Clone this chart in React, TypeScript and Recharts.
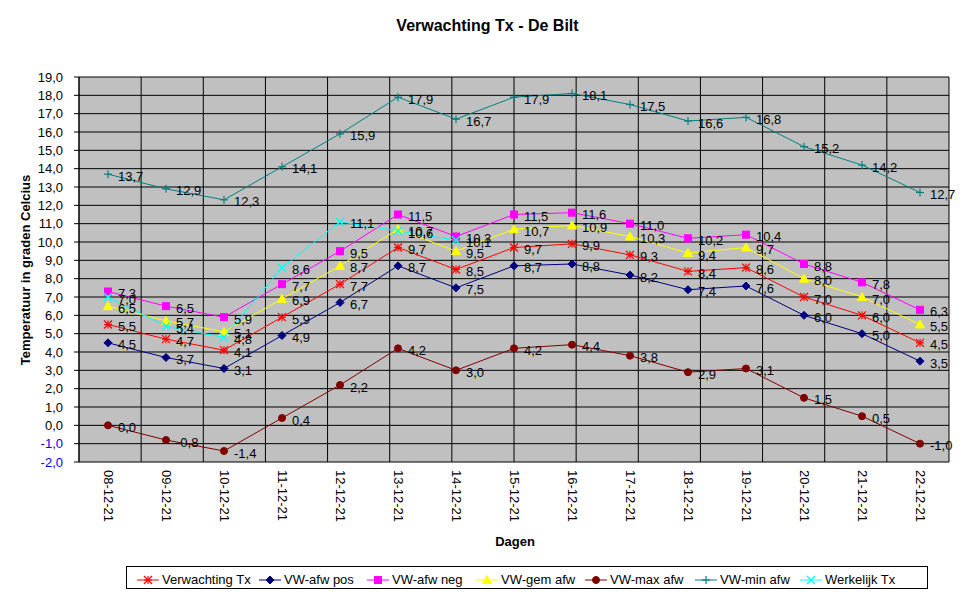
import React from 'react';
import { LineChart, Line, XAxis, YAxis, CartesianGrid, LabelList } from 'recharts';

const dates = ['08-12-21', '09-12-21', '10-12-21', '11-12-21', '12-12-21', '13-12-21', '14-12-21', '15-12-21', '16-12-21', '17-12-21', '18-12-21', '19-12-21', '20-12-21', '21-12-21', '22-12-21'];
const verwachtingTx = [5.5, 4.7, 4.1, 5.9, 7.7, 9.7, 8.5, 9.7, 9.9, 9.3, 8.4, 8.6, 7.0, 6.0, 4.5];
const vwAfwPos = [4.5, 3.7, 3.1, 4.9, 6.7, 8.7, 7.5, 8.7, 8.8, 8.2, 7.4, 7.6, 6.0, 5.0, 3.5];
const vwAfwNeg = [7.3, 6.5, 5.9, 7.7, 9.5, 11.5, 10.3, 11.5, 11.6, 11.0, 10.2, 10.4, 8.8, 7.8, 6.3];
const vwGemAfw = [6.5, 5.7, 5.1, 6.9, 8.7, 10.7, 9.5, 10.7, 10.9, 10.3, 9.4, 9.7, 8.0, 7.0, 5.5];
const vwMaxAfw = [0.0, -0.8, -1.4, 0.4, 2.2, 4.2, 3.0, 4.2, 4.4, 3.8, 2.9, 3.1, 1.5, 0.5, -1.0];
const vwMinAfw = [13.7, 12.9, 12.3, 14.1, 15.9, 17.9, 16.7, 17.9, 18.1, 17.5, 16.6, 16.8, 15.2, 14.2, 12.7];
const werkelijkTx: (number | null)[] = [7.0, 5.4, 4.8, 8.6, 11.1, 10.6, 10.1, null, null, null, null, null, null, null, null];
const yTicks = [-2, -1, 0, 1, 2, 3, 4, 5, 6, 7, 8, 9, 10, 11, 12, 13, 14, 15, 16, 17, 18, 19];
const gridTicks = [0, 1, 2, 3, 4, 5, 6, 7, 8, 9, 10, 11, 12, 13, 14, 15];

const data = dates.map((d, i) => ({
  date: d,
  verw: verwachtingTx[i],
  pos: vwAfwPos[i],
  neg: vwAfwNeg[i],
  gem: vwGemAfw[i],
  max: vwMaxAfw[i],
  min: vwMinAfw[i],
  werk: werkelijkTx[i],
}));

const FONT = '"Liberation Sans", Arial, sans-serif';
const fmt = (v: number) => v.toFixed(1).replace('.', ',');

type MarkerKind = 'star' | 'diamond' | 'square' | 'triangle' | 'circle' | 'plus' | 'x';

const Marker = ({ kind, cx, cy, color }: { kind: MarkerKind; cx: number; cy: number; color: string }) => {
  const s = 4;
  switch (kind) {
    case 'star':
      return (
        <g stroke={color} strokeWidth={1.2}>
          <line x1={cx} y1={cy - s} x2={cx} y2={cy + s} />
          <line x1={cx - s} y1={cy - s} x2={cx + s} y2={cy + s} />
          <line x1={cx - s} y1={cy + s} x2={cx + s} y2={cy - s} />
          <line x1={cx - s} y1={cy} x2={cx + s} y2={cy} />
        </g>
      );
    case 'diamond':
      return <polygon points={`${cx},${cy - 4} ${cx + 4},${cy} ${cx},${cy + 4} ${cx - 4},${cy}`} fill={color} stroke={color} />;
    case 'square':
      return <rect x={cx - 3.5} y={cy - 3.5} width={7} height={7} fill={color} stroke={color} />;
    case 'triangle':
      return <polygon points={`${cx},${cy - 4.5} ${cx + 4.5},${cy + 3.5} ${cx - 4.5},${cy + 3.5}`} fill={color} stroke={color} />;
    case 'circle':
      return <circle cx={cx} cy={cy} r={3.5} fill={color} stroke={color} />;
    case 'plus':
      return (
        <g stroke={color} strokeWidth={1.2}>
          <line x1={cx} y1={cy - s} x2={cx} y2={cy + s} />
          <line x1={cx - s} y1={cy} x2={cx + s} y2={cy} />
        </g>
      );
    case 'x':
      return (
        <g stroke={color} strokeWidth={1.5}>
          <line x1={cx - s} y1={cy - s} x2={cx + s} y2={cy + s} />
          <line x1={cx - s} y1={cy + s} x2={cx + s} y2={cy - s} />
        </g>
      );
  }
  return null;
};

const series: { key: string; name: string; color: string; marker: MarkerKind }[] = [
  { key: 'verw', name: 'Verwachting Tx', color: '#FF0000', marker: 'star' },
  { key: 'pos', name: 'VW-afw pos', color: '#000080', marker: 'diamond' },
  { key: 'neg', name: 'VW-afw neg', color: '#FF00FF', marker: 'square' },
  { key: 'gem', name: 'VW-gem afw', color: '#FFFF00', marker: 'triangle' },
  { key: 'max', name: 'VW-max afw', color: '#800000', marker: 'circle' },
  { key: 'min', name: 'VW-min afw', color: '#008080', marker: 'plus' },
  { key: 'werk', name: 'Werkelijk Tx', color: '#00FFFF', marker: 'x' },
];

const YTick = (props: any) => {
  const { x, y, payload } = props;
  const v = payload.value as number;
  return (
    <text x={x} y={y} textAnchor="end" dominantBaseline="central" fontSize={13} fontFamily={FONT} fill={v < 0 ? '#0000FF' : '#000000'}>
      {fmt(v)}
    </text>
  );
};

const XTick = (props: any) => {
  const { x, y, payload } = props;
  return (
    <text x={x} y={y} transform={`rotate(90, ${x}, ${y})`} textAnchor="start" dominantBaseline="central" fontSize={13} fontFamily={FONT} fill="#000">
      {payload.value}
    </text>
  );
};

const DataLabel = (props: any) => {
  const { x, y, value } = props;
  if (value === null || value === undefined) return null;
  return (
    <text x={x + 10} y={y + 2} dominantBaseline="central" fontSize={13} fontFamily={FONT} fill="#000">
      {fmt(Number(value))}
    </text>
  );
};

const LegendIcon = ({ kind, color }: { kind: MarkerKind; color: string }) => (
  <svg width={22} height={12} style={{ display: 'block' }}>
    <line x1={0} y1={6} x2={22} y2={6} stroke={color} strokeWidth={1} />
    <Marker kind={kind} cx={11} cy={6} color={color} />
  </svg>
);

const legendPos = [137, 259, 367, 476, 585, 695, 800];

export default function App() {
  return (
    <div style={{ position: 'absolute', left: 0, top: 0, width: 975, height: 599, background: '#FFFFFF', fontFamily: FONT }}>
      <div style={{ position: 'absolute', left: 0, width: 975, top: 17, textAlign: 'center', fontSize: 16, fontWeight: 'bold' }}>
        Verwachting Tx - De Bilt
      </div>
      <div
        style={{
          position: 'absolute',
          left: 25,
          top: 270,
          transform: 'translate(-50%, -50%) rotate(-90deg)',
          whiteSpace: 'nowrap',
          fontSize: 13,
          fontWeight: 'bold',
        }}
      >
        Temperatuur in graden Celcius
      </div>
      <div style={{ position: 'absolute', left: 515, top: 541, transform: 'translate(-50%, -50%)', fontSize: 13, fontWeight: 'bold' }}>
        Dagen
      </div>
      <LineChart width={975} height={599} data={data} margin={{ top: 77, right: 26, left: 0, bottom: 77 }}>
        <CartesianGrid xAxisId="grid" yAxisId="y" stroke="#000000" fill="#C0C0C0" fillOpacity={1} />
        <XAxis
          xAxisId="grid"
          type="number"
          domain={[0, 15]}
          ticks={gridTicks}
          interval={0}
          height={0}
          allowDataOverflow
          tickSize={5}
          tickFormatter={() => ''}
          stroke="#000000"
          axisLine={{ stroke: '#000000' }}
          tickLine={{ stroke: '#000000' }}
        />
        <XAxis
          xAxisId="cat"
          dataKey="date"
          padding={{ left: 29, right: 29 }}
          height={60}
          interval={0}
          axisLine={false}
          tickLine={false}
          tickSize={0}
          tickMargin={8}
          tick={<XTick />}
        />
        <YAxis
          yAxisId="y"
          width={79}
          domain={[-2, 19]}
          ticks={yTicks}
          interval={0}
          allowDataOverflow
          tickSize={5}
          tickMargin={11}
          axisLine={{ stroke: '#000000' }}
          tickLine={{ stroke: '#000000' }}
          tick={<YTick />}
        />
        {series.map((s) => (
          <Line
            key={s.key}
            xAxisId="cat"
            yAxisId="y"
            dataKey={s.key}
            name={s.name}
            stroke={s.color}
            strokeWidth={1}
            isAnimationActive={false}
            connectNulls={false}
            dot={(p: any) =>
              p.value === null || p.value === undefined || p.cy == null ? (
                <g key={`${s.key}-${p.index}`} />
              ) : (
                <g key={`${s.key}-${p.index}`}>
                  <Marker kind={s.marker} cx={p.cx} cy={p.cy} color={s.color} />
                </g>
              )
            }
            activeDot={false}
          >
            <LabelList dataKey={s.key} content={<DataLabel />} />
          </Line>
        ))}
      </LineChart>
      <div
        style={{
          position: 'absolute',
          left: 126,
          top: 566,
          width: 802,
          height: 23,
          border: '1px solid #000',
          boxSizing: 'border-box',
          background: '#fff',
        }}
      >
        {series.map((s, i) => (
          <div key={s.key} style={{ position: 'absolute', left: legendPos[i] - 126 - 1, top: 5, display: 'flex', alignItems: 'center', fontSize: 13, whiteSpace: 'nowrap' }}>
            <LegendIcon kind={s.marker} color={s.color} />
            <span style={{ marginLeft: 3 }}>{s.name}</span>
          </div>
        ))}
      </div>
    </div>
  );
}
